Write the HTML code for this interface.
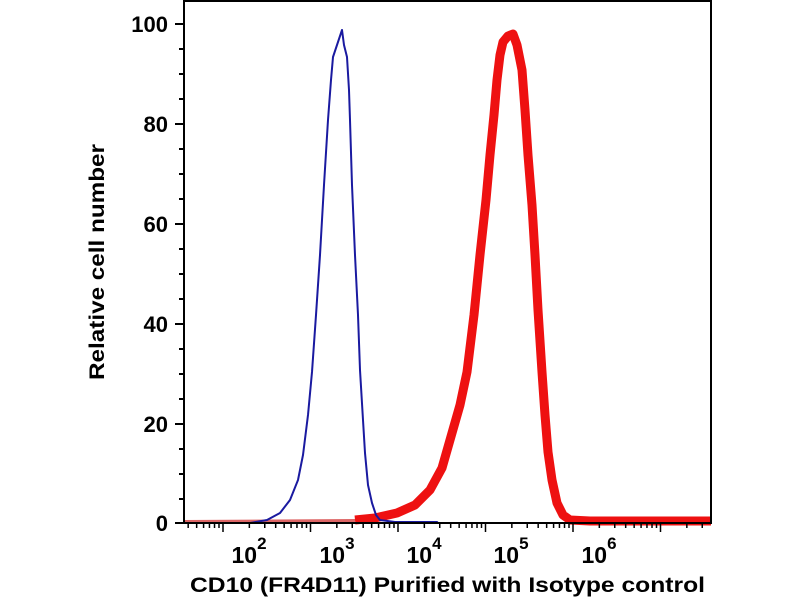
<!DOCTYPE html>
<html><head><meta charset="utf-8"><style>
html,body{margin:0;padding:0;background:#fff;width:800px;height:600px;overflow:hidden}
text{font-family:"Liberation Sans",Arial,sans-serif;font-weight:bold;fill:#000}
</style></head><body>
<svg width="800" height="600" viewBox="0 0 800 600">
<rect width="800" height="600" fill="#fff"/>
<polyline points="184,522 355,521" fill="none" stroke="#d66" stroke-width="4"/>
<polyline points="355,520 375,518 397,513 415,505 430,490 442,468 450,440 460,405 467,372 474,315 480,255 486,200 490,155 494,115 497,80 500,55 503,42 508,36 513,34 517,45 522,70 525,110 528,155 532,205 535,255 538,310 542,372 545,415 548,452 552,480 557,503 563,515 570,520 590,521 711,521" fill="none" stroke="#ee1111" stroke-width="9" stroke-linejoin="round"/>
<polyline points="184,523 250,523 267,520 280,513 290,500 298,480 303,455 308,415 312,372 316,315 320,255 324,185 328,120 331,80 333,57 337,45 342,30 344,45 347,57 349,90 350,120 352,185 355,255 358,315 360,370 363,420 365,453 368,485 372,503 376,515 380,520 395,522 437,522 438,523 711,523" fill="none" stroke="#1a1aa0" stroke-width="2" stroke-linejoin="round"/>
<rect x="184" y="1" width="527" height="522" fill="none" stroke="#000" stroke-width="2"/>
<g stroke="#000" stroke-width="2">
<line x1="175" y1="24" x2="184" y2="24"/><line x1="175" y1="124" x2="184" y2="124"/><line x1="175" y1="224" x2="184" y2="224"/><line x1="175" y1="324" x2="184" y2="324"/><line x1="175" y1="424" x2="184" y2="424"/><line x1="175" y1="523" x2="184" y2="523"/>
<line x1="179" y1="49" x2="184" y2="49"/><line x1="179" y1="74" x2="184" y2="74"/><line x1="179" y1="99" x2="184" y2="99"/>
<line x1="179" y1="149" x2="184" y2="149"/><line x1="179" y1="174" x2="184" y2="174"/><line x1="179" y1="199" x2="184" y2="199"/>
<line x1="179" y1="249" x2="184" y2="249"/><line x1="179" y1="274" x2="184" y2="274"/><line x1="179" y1="299" x2="184" y2="299"/>
<line x1="179" y1="349" x2="184" y2="349"/><line x1="179" y1="374" x2="184" y2="374"/><line x1="179" y1="399" x2="184" y2="399"/>
<line x1="179" y1="449" x2="184" y2="449"/><line x1="179" y1="474" x2="184" y2="474"/><line x1="179" y1="499" x2="184" y2="499"/>
</g>
<g id="xt" stroke="#000" stroke-width="1.5"></g>
<g font-size="22" text-anchor="end">
<text x="168" y="32">100</text><text x="168" y="132">80</text><text x="168" y="232">60</text><text x="168" y="332">40</text><text x="168" y="432">20</text><text x="168" y="531">0</text>
</g>
<g font-size="23" text-anchor="middle">
<text x="249" y="563">10<tspan dy="-14" font-size="17">2</tspan></text>
<text x="337" y="563">10<tspan dy="-14" font-size="17">3</tspan></text>
<text x="424" y="563">10<tspan dy="-14" font-size="17">4</tspan></text>
<text x="511" y="563">10<tspan dy="-14" font-size="17">5</tspan></text>
<text x="599" y="563">10<tspan dy="-14" font-size="17">6</tspan></text>
</g>
<text x="190" y="592" font-size="21" textLength="515" lengthAdjust="spacingAndGlyphs">CD10 (FR4D11) Purified with Isotype control</text>
<text transform="translate(104,380) rotate(-90)" font-size="21" textLength="236" lengthAdjust="spacingAndGlyphs">Relative cell number</text>
</svg>
<script>
var g=document.getElementById('xt'),s='';
for(var d=1;d<=7;d++){for(var m=1;m<=9;m++){var v=d+Math.log10(m);var x=223+(v-2)*87.5;if(x<185||x>710)continue;var L=m==1?9:5;s+='<line x1="'+x+'" y1="523" x2="'+x+'" y2="'+(523+L)+'"/>';}}
g.innerHTML=s;
</script>
</body></html>
